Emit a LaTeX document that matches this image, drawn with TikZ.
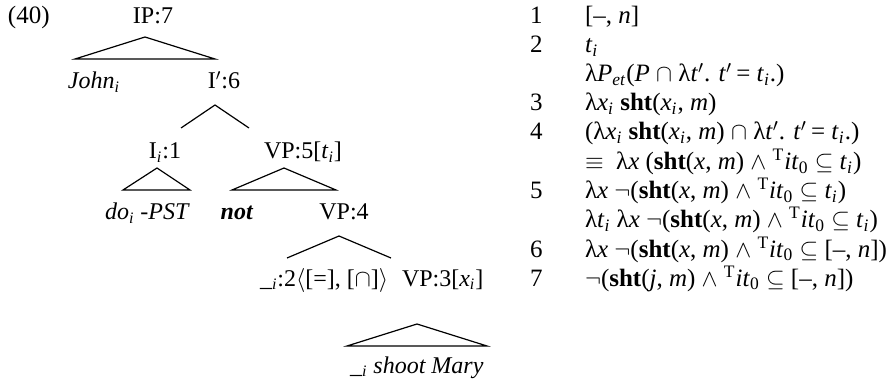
\documentclass[tikz,border=0pt]{standalone}
\usepackage{fontspec}
\setmainfont{Liberation Serif}
\newcommand\sbi{\textsubscript{\textit{i}}}
\newcommand\shtb{\textbf{sht}}
\newcommand\Tito{\textsuperscript{T}\textit{it}\textsubscript{0}}
\newcommand\prm{$'$}
\begin{document}
\begin{tikzpicture}[x=0.5pt,y=-0.5pt,
  lbl/.style={inner sep=0pt,outer sep=0pt,font=\fontsize{12}{14}\selectfont},
  lw/.style={lbl,anchor=base west},
  lc/.style={lbl,anchor=base},
  rw/.style={lw,font=\fontsize{12.5}{15}\selectfont},
  br/.style={line width=0.6pt,line join=miter}]
\useasboundingbox (0,0) rectangle (896,385);
% example number
\node[lw,font=\fontsize{12.5}{15}\selectfont] (ex) at (8,24) {(40)};
% tree labels
\node[lc] (ip) at (153,24) {IP:7};
\node[lw] (john) at (68,89) {\textit{John}\sbi};
\node[lc] (ibar) at (224,89) {I\prm:6};
\node[lc] (ii) at (165,159) {I\sbi:1};
\node[lc] (vp5) at (303,159) {VP:5[\textit{t}\sbi]};
\node[lw] (do) at (105,220) {\textit{do}\sbi\ \textit{-PST}};
\node[lc] (not) at (237,220) {\textbf{\textit{not}}};
\node[lc] (vp4) at (344,220) {VP:4};
\node[lw] (tr) at (260,286) {\_\sbi:2$\langle$[=], [$\cap$]$\rangle$};
\node[lw] (vp3) at (402,286) {VP:3[\textit{x}\sbi]};
\node[lw] (shoot) at (350,373) {\_\sbi\ \textit{shoot Mary}};
% tree branches
\coordinate (ipA) at (145,37); \coordinate (ipL) at (75,59); \coordinate (ipR) at (215,59);
\draw[br] (ipL) -- (ipA) -- (ipR) -- cycle;
\coordinate (ibA) at (215,105); \coordinate (ibL) at (181,128); \coordinate (ibR) at (249,128);
\draw[br] (ibL) -- (ibA) -- (ibR);
\coordinate (iiA) at (157,168); \coordinate (iiL) at (123,190); \coordinate (iiR) at (190,190);
\draw[br] (iiL) -- (iiA) -- (iiR) -- cycle;
\coordinate (v5A) at (284,168); \coordinate (v5L) at (232,190); \coordinate (v5R) at (336,190);
\draw[br] (v5L) -- (v5A) -- (v5R) -- cycle;
\coordinate (v4A) at (339,236); \coordinate (v4L) at (287,258); \coordinate (v4R) at (391,258);
\draw[br] (v4L) -- (v4A) -- (v4R);
\coordinate (v3A) at (417,324); \coordinate (v3L) at (347,346); \coordinate (v3R) at (487,346);
\draw[br] (v3L) -- (v3A) -- (v3R) -- cycle;
% derivation column
\node[rw] (n1) at (530,24) {1};
\node[rw] (n2) at (530,53) {2};
\node[rw] (n3) at (530,111) {3};
\node[rw] (n4) at (530,140) {4};
\node[rw] (n5) at (530,198.5) {5};
\node[rw] (n6) at (530,257) {6};
\node[rw] (n7) at (530,286) {7};
\node[rw] (r1) at (585,24) {[--, \textit{n}]};
\node[rw] (r2) at (585,53) {\textit{t}\sbi};
\node[rw] (r3) at (585,82) {λ\textit{P}\textsubscript{\textit{et}}(\textit{P} $\cap$ λ\textit{t}\prm. \textit{t}\prm\,= \textit{t}\sbi.)};
\node[rw] (r4) at (585,111) {λ\textit{x}\sbi\ \shtb(\textit{x}\sbi, \textit{m})};
\node[rw] (r5) at (585,140) {(λ\textit{x}\sbi\ \shtb(\textit{x}\sbi, \textit{m}) $\cap$ λ\textit{t}\prm. \textit{t}\prm\,= \textit{t}\sbi.)};
\node[rw] (r6) at (585,169.5) {$\equiv$\enspace λ\textit{x} (\shtb(\textit{x}, \textit{m}) $\wedge$ \Tito\ $\subseteq$ \textit{t}\sbi)};
\node[rw] (r7) at (585,198.5) {λ\textit{x} $\neg$(\shtb(\textit{x}, \textit{m}) $\wedge$ \Tito\ $\subseteq$ \textit{t}\sbi)};
\node[rw] (r8) at (585,227.5) {λ\textit{t}\sbi\ λ\textit{x} $\neg$(\shtb(\textit{x}, \textit{m}) $\wedge$ \Tito\ $\subseteq$ \textit{t}\sbi)};
\node[rw] (r9) at (585,257) {λ\textit{x} $\neg$(\shtb(\textit{x}, \textit{m}) $\wedge$ \Tito\ $\subseteq$ [--, \textit{n}])};
\node[rw] (r10) at (585,286) {$\neg$(\shtb(\textit{j}, \textit{m}) $\wedge$ \Tito\ $\subseteq$ [--, \textit{n}])};
\end{tikzpicture}
\end{document}
